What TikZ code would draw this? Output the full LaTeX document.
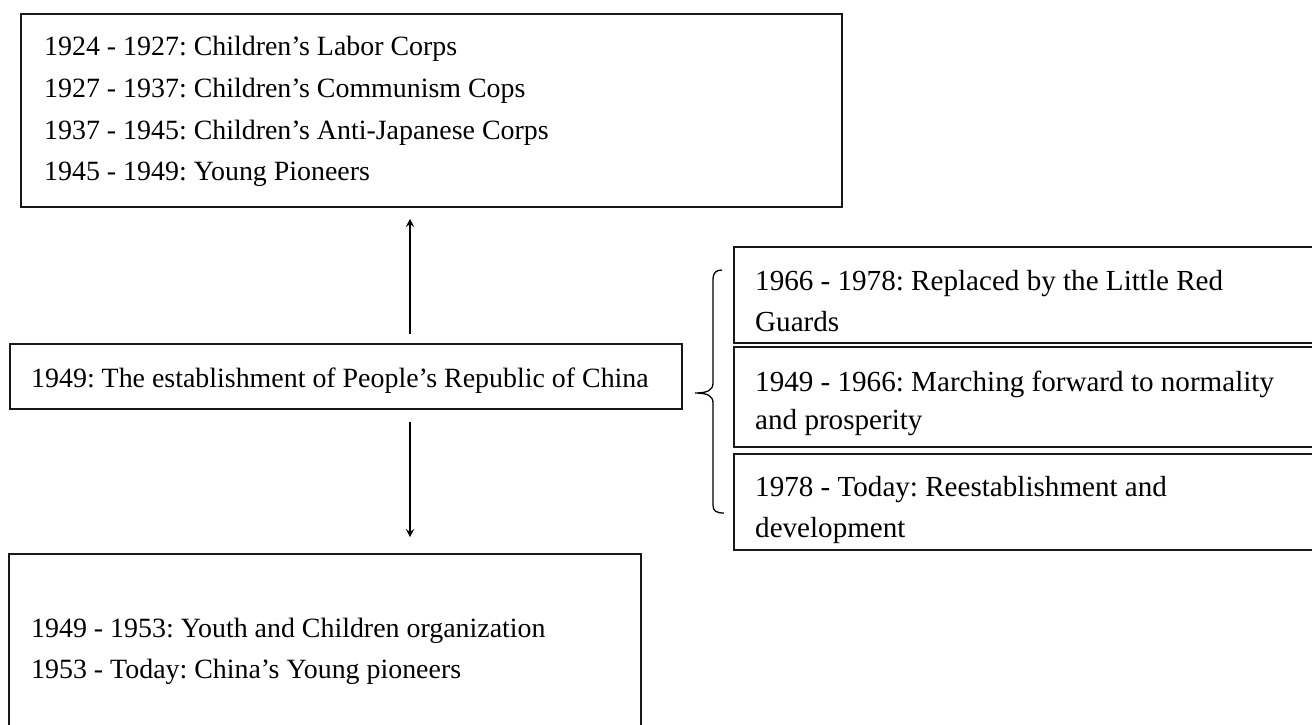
\documentclass[tikz,border=0pt]{standalone}
\usepackage{fontspec}
\setmainfont{Liberation Serif}
\usetikzlibrary{arrows.meta}
\frenchspacing
\begin{document}
\begin{tikzpicture}[x=1pt,y=-1pt,
  boxline/.style={draw=black!90,line width=1.5pt,anchor=north west,inner sep=0pt,outer sep=0pt},
  txt/.style={anchor=base west,inner sep=0pt,font=\fontsize{27.9}{41}\selectfont},
  rtxt/.style={anchor=base west,inner sep=0pt,font=\fontsize{29.1}{41}\selectfont},
  arr/.style={line width=1.3pt,-{Stealth[length=8pt,width=8.5pt,inset=3pt]}},
  bracel/.style={line width=1.3pt}]
\useasboundingbox (0,0) rectangle (1312,725);
\clip (0,0) rectangle (1312,725);
% boxes
\node[boxline,minimum width=821pt,minimum height=193pt] (top) at (21,14) {};
\node[boxline,minimum width=672pt,minimum height=65pt] (mid) at (10,344) {};
\node[boxline,minimum width=632pt,minimum height=200pt] (bot) at (9,554) {};
\node[boxline,minimum width=600pt,minimum height=96pt] (r1) at (734,247) {};
\node[boxline,minimum width=600pt,minimum height=100pt] (r2) at (734,347) {};
\node[boxline,minimum width=600pt,minimum height=96pt] (r3) at (734,454) {};
% texts
\node[txt] (t1) at (44,56) {1924 - 1927: Children’s Labor Corps};
\node[txt] (t2) at (44,97.5) {1927 - 1937: Children’s Communism Cops};
\node[txt] (t3) at (44,139) {1937 - 1945: Children’s Anti-Japanese Corps};
\node[txt] (t4) at (44,180.5) {1945 - 1949: Young Pioneers};
\node[txt] (m1) at (31,387) {1949: The establishment of People’s Republic of China};
\node[txt] (b1) at (31,637) {1949 - 1953: Youth and Children organization};
\node[txt] (b2) at (31,678) {1953 - Today: China’s Young pioneers};
\node[rtxt] (r1a) at (755,290) {1966 - 1978: Replaced by the Little Red};
\node[rtxt] (r1b) at (755,331) {Guards};
\node[rtxt] (r2a) at (755,391) {1949 - 1966: Marching forward to normality};
\node[rtxt] (r2b) at (755,429) {and prosperity};
\node[rtxt] (r3a) at (755,496) {1978 - Today: Reestablishment and};
\node[rtxt] (r3b) at (755,537) {development};
% arrows
\coordinate (ax) at (410,0);
\draw[arr,shorten <=10pt,shorten >=12pt] (mid.north -| ax) -- (top.south -| ax);
\draw[arr,shorten <=13pt,shorten >=17pt] (mid.south -| ax) -- (bot.north -| ax);
% brace
\coordinate (btip) at (695,393);
\draw[bracel] (722,270) .. controls (716,270) and (713,273) .. (713,279)
  -- (713,383) .. controls (713,390) and (708,393) .. (btip)
  .. controls (708,393) and (713,396) .. (713,403)
  -- (713,505) .. controls (713,511) and (716,513) .. (724,513);
\end{tikzpicture}
\end{document}
